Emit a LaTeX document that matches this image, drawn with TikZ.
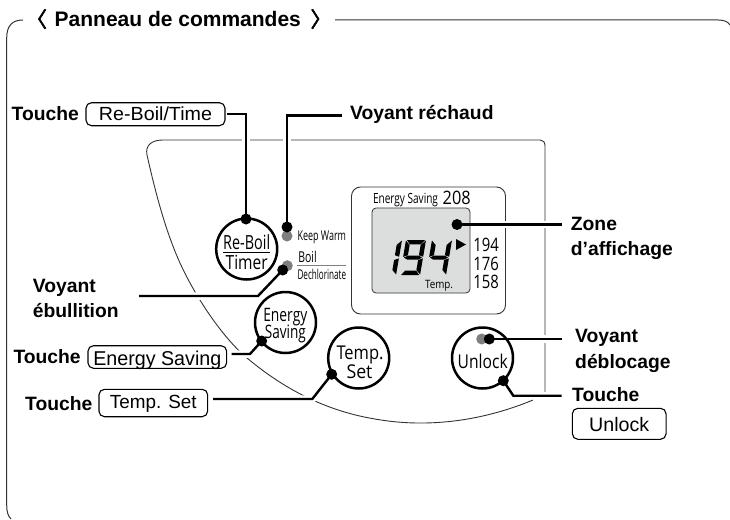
\documentclass[tikz,border=0pt]{standalone}
\usepackage{fontspec}
\usepackage{graphicx}
\setmainfont{Liberation Sans}
\newfontfamily\pf{Open Sans}
\newfontfamily\cjkf[FakeBold=2.5]{Noto Sans CJK JP}
\usetikzlibrary{calc}
\pgfdeclarelayer{back}\pgfdeclarelayer{halo}\pgfdeclarelayer{mid}
\pgfsetlayers{back,halo,mid,main}
\definecolor{lcd}{HTML}{DCDDDD}
\definecolor{led}{HTML}{7F7F7F}
\definecolor{edge}{HTML}{333333}
% fit text to a given width at a given size
\newcommand{\fw}[3]{\resizebox{#1pt}{\height}{\fontsize{#2pt}{#2pt}\selectfont #3}}
\newcommand{\lead}[1]{%
  \begin{pgfonlayer}{halo}\draw[line width=7.5pt,white] #1;\end{pgfonlayer}%
  \draw[leader] #1;}
\newcommand{\seg}[1]{\fill[black] #1 -- cycle;}
\newcommand{\segA}{\seg{(1,0) -- (19,0) -- (15.5,4.4) -- (4.5,4.4)}}
\newcommand{\segB}{\seg{(20,.5) -- (15.5,5) -- (15.5,15.2) -- (20,16.8)}}
\newcommand{\segC}{\seg{(20,18.4) -- (15.5,20) -- (15.5,30) -- (20,34.5)}}
\newcommand{\segD}{\seg{(1,35) -- (4.5,30.6) -- (15.5,30.6) -- (19,35)}}
\newcommand{\segE}{\seg{(0,18.4) -- (4.5,20) -- (4.5,30) -- (0,34.5)}}
\newcommand{\segF}{\seg{(0,.5) -- (4.5,5) -- (4.5,15.2) -- (0,16.8)}}
\newcommand{\segG}{\seg{(1,17.6) -- (4.5,15.6) -- (15.5,15.6) -- (19,17.6) -- (15.5,19.6) -- (4.5,19.6)}}
\tikzset{
  x=1pt,y=-1pt,
  leader/.style={line width=2.4pt,black,line join=miter},
  frameline/.style={line width=1pt,edge},
  panelline/.style={line width=.9pt,edge},
  btn/.style={circle,draw=black,line width=2.5pt,fill=white,minimum size=61pt,inner sep=0pt},
  dotk/.style={circle,fill=black,minimum size=11pt,inner sep=0pt},
  dotg/.style={circle,fill=led,minimum size=11pt,inner sep=0pt},
  keybox/.style={rounded corners=5.5pt,draw=black,line width=1.1pt,inner sep=0pt,anchor=center},
  lab/.style={anchor=base west,inner sep=0pt,font=\bfseries},
  pt/.style={anchor=base,inner sep=0pt,font=\pf},
}
\begin{document}
\begin{tikzpicture}
\useasboundingbox (0,0) rectangle (730,519);
% outer frame
\draw[frameline] (23,20) .. controls (12,20) and (6.7,26) .. (6.7,38) -- (6.7,505) .. controls (6.7,512) and (8,516) .. (11,519);
\draw[frameline] (335,20) -- (718,20) .. controls (725,20) and (728,22) .. (730,25);
% panel
\begin{pgfonlayer}{back}
\draw[panelline] (545,392) -- (545,146) .. controls (545,142) and (543,140) .. (540,140) -- (163,140) .. controls (152,140) and (145,145) .. (147,155)
  .. controls (156,195) and (166,232) .. (180,263) .. controls (195,296) and (222,337) .. (247,358)
  .. controls (278,384) and (320,410) .. (375,419) .. controls (425,428) and (480,422) .. (533,400);
\draw[panelline,rounded corners=9pt] (351.5,187) rectangle (505.5,314);
\end{pgfonlayer}
% LCD
\begin{pgfonlayer}{mid}
\draw[line width=.8pt,edge,fill=lcd,rounded corners=4pt] (372,208) rectangle (470,293);
\begin{scope}[shift={(382,240)},xslant=.17]\segB\segC\end{scope}
\begin{scope}[shift={(406,240)},xslant=.17]\segA\segB\segC\segD\segF\segG\end{scope}
\begin{scope}[shift={(432,240)},xslant=.17]\segB\segC\segF\segG\end{scope}
\fill[black] (456,239) -- (466,244.5) -- (456,250) -- cycle;
\node[btn] (bReboil) at (246.7,249) {};
\node[btn] (bEnergy) at (285.5,322.5) {};
\node[btn] (bTemp) at (358.7,358) {};
\node[btn] (bUnlock) at (482.5,358) {};
\node[dotg] (ledWarm) at (287,236) {};
\node[dotg] (ledBoil) at (287.3,265.7) {};
\node[dotg] (ledUnlock) at (481.7,339) {};
\end{pgfonlayer}
% button and panel texts
\node[pt] (tReboil) at (246.7,249.3) {\fw{47}{19.5}{Re-Boil}};
\node[pt] (tTimer) at (246.7,269.3) {\fw{42}{19.5}{Timer}};
\draw[line width=1.2pt] (tReboil.south west |- 0,252.7) -- (tReboil.south east |- 0,252.7);
\node[pt] (tEnergy) at (285.3,321) {\fw{44}{18.5}{Energy}};
\node[pt] (tSaving) at (285.3,338) {\fw{41}{18.5}{Saving}};
\node[pt] (tTemp) at (360,359.3) {\fw{47}{19}{Temp.}};
\node[pt] (tSet) at (359.5,378.3) {\fw{26}{19}{Set}};
\node[pt] (tUnlock) at (482.7,368.3) {\fw{50}{19}{Unlock}};
\node[pt] (tKeep) at (321.8,240.7) {\fw{48.5}{13.5}{Keep Warm}};
\node[pt] (tBoil) at (307.5,262.7) {\fw{18.5}{15}{Boil}};
\draw[line width=1pt,led] (297,265.7) -- (346,265.7);
\node[pt] (tDech) at (321.8,279.3) {\fw{48.5}{13.5}{Dechlorinate}};
\node[pt] (tES) at (405.5,203) {\fw{65}{14}{Energy Saving}};
\node[pt] (t208) at (456.7,204.3) {\fw{28}{18.5}{208}};
\node[pt] (t194) at (486.2,251) {\fw{25.5}{18.5}{194}};
\node[pt] (t176) at (486.2,270) {\fw{25.5}{18.5}{176}};
\node[pt] (t158) at (486.2,288.3) {\fw{25.5}{18.5}{158}};
\node[pt] (tT) at (439,288.3) {\fw{28}{11.5}{Temp.}};
% title
\node[anchor=base,inner sep=0pt,font=\cjkf\fontsize{21pt}{21pt}\selectfont] (brL) at (36.5,27) {〈};
\node[lab,font=\bfseries\fontsize{21pt}{21pt}\selectfont] (title) at (54.5,26.7) {Panneau de commandes};
\node[anchor=base,inner sep=0pt,font=\cjkf\fontsize{21pt}{21pt}\selectfont] (brR) at (321,27) {〉};
% labels
\newcommand{\lb}{\fontsize{19.3pt}{19.3pt}\selectfont}
\node[lab] (l1) at (11.5,120) {\lb Touche};
\node[lab] (l2) at (350,119) {\lb Voyant réchaud};
\node[lab] (l3) at (570.7,230) {\lb Zone};
\node[lab] (l4) at (570.7,255) {\lb d’affichage};
\node[lab] (l5) at (32.7,292.7) {\lb Voyant};
\node[lab] (l6) at (32.7,317.3) {\lb ébullition};
\node[lab] (l7) at (13.3,363.3) {\lb Touche};
\node[lab] (l8) at (25,410) {\lb Touche};
\node[lab] (l9) at (575,342.7) {\lb Voyant};
\node[lab] (l10) at (575,368) {\lb déblocage};
\node[lab] (l11) at (572,401.7) {\lb Touche};
% key boxes
\node[keybox,minimum width=139pt,minimum height=23pt,text height=13pt,text depth=0pt] (kReboil) at (155.5,114.2) {\fw{113}{19}{Re-Boil/Time}\hspace{4.4pt}};
\node[keybox,minimum width=138.7pt,minimum height=22.6pt,text height=16pt,text depth=0pt] (kEnergy) at (157.3,357) {\fw{128}{20}{Energy Saving}};
\node[keybox,minimum width=108.7pt,minimum height=27.4pt,text height=10pt,text depth=0pt] (kTemp) at (153.3,403) {\fw{86.7}{19}{Temp. Set}\hspace{9.6pt}};
\node[keybox,minimum width=93.7pt,minimum height=31pt,text height=14.4pt,text depth=0pt] (kUnlock) at (619.2,423.8) {\fw{60}{19.5}{Unlock}};
% connector ends and dots
\node[dotk] (dReboil) at (246,219) {};
\node[dotk] (dWarm) at (287,227) {};
\node[dotk] (dBoil) at (282.7,270) {};
\node[dotk] (dEnergy) at (261.7,341) {};
\node[dotk] (dTemp) at (331.7,374.3) {};
\node[dotk] (dUnlockLed) at (489.3,339) {};
\node[dotk] (dUnlock) at (503.3,380.7) {};
\node[dotk] (dZone) at (457,224.5) {};
\coordinate (eWarm) at (341.7,115.5);
\coordinate (eBoil) at (139,296);
\coordinate (kBoil) at (258,296);
\coordinate (sEnergy) at (231.7,354);
\coordinate (kEn) at (250,354);
\coordinate (sTemp) at (213,399);
\coordinate (kTe) at (312.3,399);
\coordinate (eZone) at (561.7,224.5);
\coordinate (eLed) at (561.7,339);
\coordinate (eUn) at (561.7,395.7);
\coordinate (kUn) at (513.3,395.7);
\lead{([xshift=1.5pt]kReboil.east) -| (dReboil.center)}
\lead{(eWarm) -| (dWarm.center)}
\lead{(eBoil) -- (kBoil) -- (dBoil.center)}
\lead{(sEnergy) -- (kEn) -- (dEnergy.center)}
\lead{(sTemp) -- (kTe) -- (dTemp.center)}
\lead{(eZone) -- (dZone.center)}
\lead{(eLed) -- (dUnlockLed.center)}
\lead{(eUn) -- (kUn) -- (dUnlock.center)}
\end{tikzpicture}
\end{document}
